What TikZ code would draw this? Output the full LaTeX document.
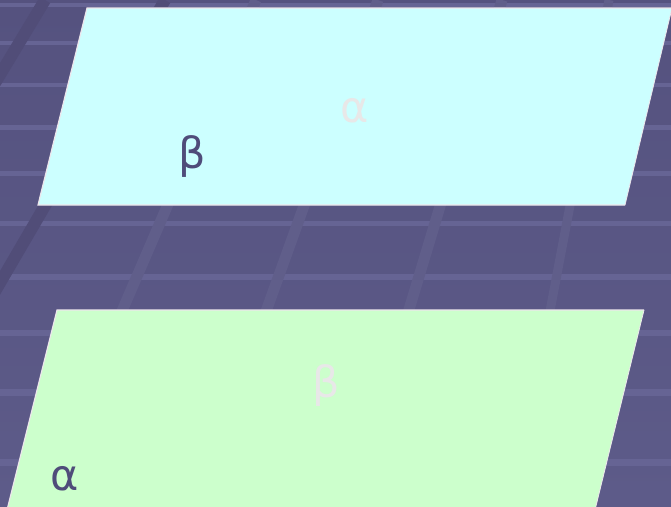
\documentclass[tikz,border=0pt]{standalone}
\usepackage{fontspec}
\setmainfont{DejaVu Sans}
\definecolor{bgtop}{HTML}{55527F}
\definecolor{bgbot}{HTML}{5D5B89}
\definecolor{hline}{HTML}{666494}
\definecolor{sline}{HTML}{605E8A}
\definecolor{dline}{HTML}{514D78}
\definecolor{cyanfill}{HTML}{CCFFFF}
\definecolor{greenfill}{HTML}{CCFFCC}
\definecolor{edgec}{HTML}{EDE6EC}
\definecolor{darklab}{HTML}{4F4C7A}
\definecolor{lightlab}{HTML}{E8E8E8}
\tikzset{
  plane/.style={draw=edgec, line width=1.2pt},
  lab/.style={inner sep=0pt, font=\fontsize{43}{43}\selectfont},
  hl/.style={draw=hline},
  sl/.style={draw=sline, line width=11pt},
  dl/.style={draw=dline, line width=12pt}
}
\begin{document}
\begin{tikzpicture}[x=1pt,y=-1pt]
\useasboundingbox (0,0) rectangle (671,506);
\shade[top color=bgtop, bottom color=bgbot] (0,0) rectangle (671,506);
% horizontal grid lines
\foreach \yy/\w in {5/4,43/4,85/4,127/5,173/5,223/5,277/6,333/6,392/7,462/7}
  \draw[hl, line width=\w pt] (0,\yy) -- (671,\yy);
% dark slanted bands
\draw[dl] (45,0) -- (-5,83);
\draw[dl] (165,0) -- (-10,300);
% lighter slanted bands
\draw[sl] (256,0) -- (38,506);
\draw[sl] (378,0) -- (196,506);
\draw[sl] (502,0) -- (350,506);
\draw[sl, line width=9pt] (609,0) -- (513,506);
% planes
\coordinate (t1) at (87,8);
\coordinate (t2) at (672,8);
\coordinate (t3) at (625,205);
\coordinate (t4) at (38,205);
\fill[cyanfill] (t1) -- (t2) -- (t3) -- (t4) -- cycle;
\draw[plane] (t2) -- (t1) -- (t4) -- (t3);
\coordinate (b1) at (57,310);
\coordinate (b2) at (644,310);
\coordinate (b3) at (595,510);
\coordinate (b4) at (7,510);
\fill[greenfill] (b1) -- (b2) -- (b3) -- (b4) -- cycle;
\draw[plane] (b2) -- (b1) -- (b4);
\draw[plane, line width=0.8pt] (b2) -- (b3);
\draw[plane, line width=0.8pt] (t2) -- (t3);
% labels
\node[lab, text=darklab] (betaT) at (192,156) {β};
\node[lab, text=lightlab] (alphaT) at (355,111) {α};
\node[lab, text=lightlab] (betaB) at (326,385) {β};
\node[lab, text=darklab] (alphaB) at (65,479) {α};
\end{tikzpicture}
\end{document}
